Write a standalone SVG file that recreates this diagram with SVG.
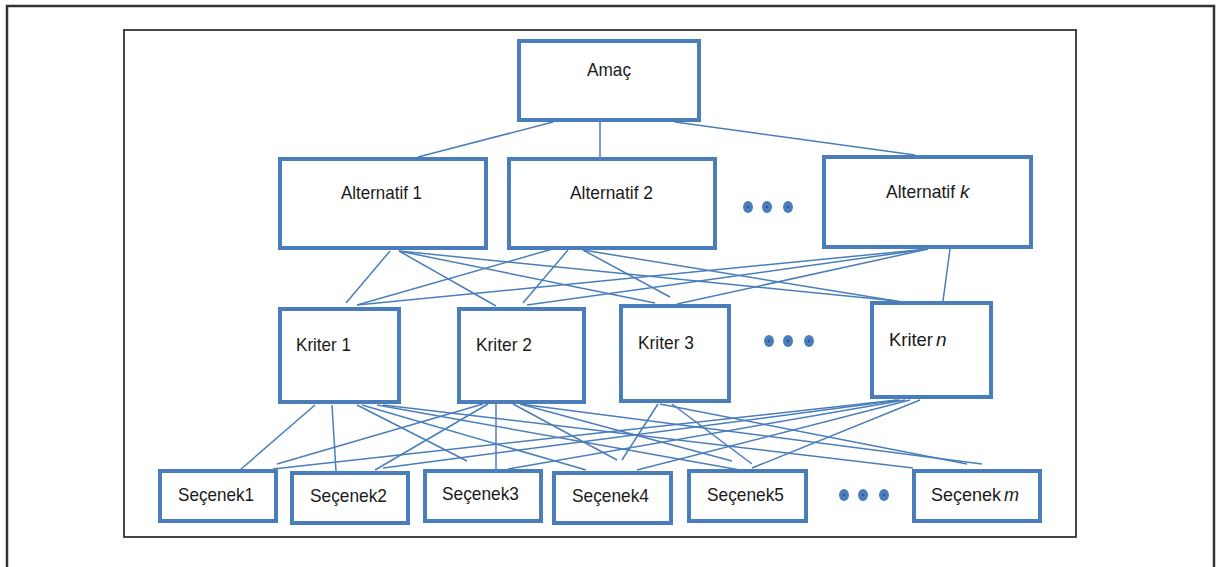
<svg xmlns="http://www.w3.org/2000/svg" width="1217" height="567" viewBox="0 0 1217 567">
<style>
.frame{fill:none;stroke:#333;}
.box{fill:#fff;stroke:#4a7ebb;stroke-width:4;}
.lbl{font-family:"Liberation Sans",Arial,sans-serif;font-size:19px;fill:#1a1a1a;}
.it{font-style:italic;}
#connectors line{stroke:#4a7ebb;stroke-width:1.5;}
.dot{fill:#4a7ebb;}
.dotc{fill:#27497a;}
</style>
<defs>
<g id="dots">
<ellipse class="dot" cx="0" cy="0" rx="5" ry="6"/><ellipse class="dotc" cx="0" cy="0" rx="0.8" ry="1.2"/>
<ellipse class="dot" cx="19" cy="0" rx="5" ry="6"/><ellipse class="dotc" cx="19" cy="0" rx="0.8" ry="1.2"/>
<ellipse class="dot" cx="40" cy="0" rx="5" ry="6"/><ellipse class="dotc" cx="40" cy="0" rx="0.8" ry="1.2"/>
</g>
</defs>
<rect width="1217" height="567" fill="#fff"/>
<path class="frame" d="M7,575 V6 H1214 V575" stroke-width="2.5"/>
<rect class="frame" x="124" y="30" width="952" height="507" stroke-width="1.8"/>

<g id="connectors">
<line x1="553" y1="122" x2="418" y2="157"/>
<line x1="600" y1="122" x2="600" y2="157"/>
<line x1="675" y1="122" x2="915" y2="155"/>

<line x1="390" y1="251" x2="346" y2="303"/>
<line x1="399" y1="251" x2="496" y2="306"/>
<line x1="399" y1="251" x2="655" y2="303"/>
<line x1="399" y1="251" x2="897" y2="301"/>
<line x1="563" y1="246" x2="357" y2="305"/>
<line x1="568" y1="250" x2="523" y2="303"/>
<line x1="583" y1="250" x2="670" y2="297"/>
<line x1="583" y1="250" x2="902" y2="302"/>
<line x1="928" y1="249" x2="357" y2="305"/>
<line x1="928" y1="249" x2="527" y2="305"/>
<line x1="928" y1="249" x2="677" y2="304"/>
<line x1="950" y1="249" x2="943" y2="301"/>

<line x1="315" y1="405" x2="240" y2="470"/>
<line x1="332" y1="405" x2="336" y2="471"/>
<line x1="357" y1="405" x2="467" y2="461"/>
<line x1="362" y1="405" x2="586" y2="470"/>
<line x1="377" y1="405" x2="740" y2="470"/>
<line x1="383" y1="405" x2="913" y2="468"/>

<line x1="483" y1="404" x2="277" y2="464"/>
<line x1="488" y1="404" x2="375" y2="470"/>
<line x1="496" y1="404" x2="496" y2="470"/>
<line x1="513" y1="404" x2="617" y2="460"/>
<line x1="520" y1="404" x2="732" y2="461"/>
<line x1="520" y1="404" x2="982" y2="464"/>

<line x1="658" y1="404" x2="622" y2="460"/>
<line x1="672" y1="404" x2="752" y2="464"/>
<line x1="660" y1="404" x2="967" y2="464"/>

<line x1="897" y1="400" x2="273" y2="469"/>
<line x1="900" y1="400" x2="383" y2="468"/>
<line x1="905" y1="400" x2="508" y2="469"/>
<line x1="910" y1="400" x2="637" y2="470"/>
<line x1="920" y1="400" x2="752" y2="468"/>
</g>

<g id="amac"><rect class="box" x="519" y="41" width="180" height="79"/><text class="lbl" x="587" y="76" textLength="44" lengthAdjust="spacingAndGlyphs">Amaç</text></g>

<g id="alt1"><rect class="box" x="280" y="159" width="206" height="89"/><text class="lbl" x="341" y="199" textLength="81" lengthAdjust="spacingAndGlyphs">Alternatif 1</text></g>
<g id="alt2"><rect class="box" x="509" y="159" width="206" height="89"/><text class="lbl" x="570" y="199" textLength="83" lengthAdjust="spacingAndGlyphs">Alternatif 2</text></g>
<g id="altk"><rect class="box" x="824" y="157" width="207" height="90"/><text class="lbl" x="886" y="198" textLength="69" lengthAdjust="spacingAndGlyphs">Alternatif</text><text class="lbl it" x="960" y="198">k</text></g>
<g id="altdots"><use href="#dots" x="748" y="207"/></g>

<g id="k1"><rect class="box" x="280" y="309" width="119" height="93"/><text class="lbl" x="296" y="351" textLength="55" lengthAdjust="spacingAndGlyphs">Kriter 1</text></g>
<g id="k2"><rect class="box" x="459" y="309" width="125" height="93"/><text class="lbl" x="476" y="351" textLength="56" lengthAdjust="spacingAndGlyphs">Kriter 2</text></g>
<g id="k3"><rect class="box" x="621" y="306" width="108" height="95"/><text class="lbl" x="638" y="349" textLength="56" lengthAdjust="spacingAndGlyphs">Kriter 3</text></g>
<g id="kn"><rect class="box" x="872" y="303" width="119" height="94"/><text class="lbl" x="889" y="346" textLength="44" lengthAdjust="spacingAndGlyphs">Kriter</text><text class="lbl it" x="936" y="346">n</text></g>
<g id="kdots"><use href="#dots" x="769" y="341"/></g>

<g id="s1"><rect class="box" x="160" y="471" width="116" height="50"/><text class="lbl" x="178" y="501" textLength="76" lengthAdjust="spacingAndGlyphs">Seçenek1</text></g>
<g id="s2"><rect class="box" x="292" y="473" width="116" height="50"/><text class="lbl" x="310" y="502" textLength="77" lengthAdjust="spacingAndGlyphs">Seçenek2</text></g>
<g id="s3"><rect class="box" x="425" y="471" width="116" height="50"/><text class="lbl" x="442" y="500" textLength="77" lengthAdjust="spacingAndGlyphs">Seçenek3</text></g>
<g id="s4"><rect class="box" x="554" y="473" width="117" height="50"/><text class="lbl" x="572" y="502" textLength="77" lengthAdjust="spacingAndGlyphs">Seçenek4</text></g>
<g id="s5"><rect class="box" x="689" y="471" width="117" height="50"/><text class="lbl" x="707" y="501" textLength="77" lengthAdjust="spacingAndGlyphs">Seçenek5</text></g>
<g id="sm"><rect class="box" x="914" y="471" width="126" height="50"/><text class="lbl" x="931" y="501" textLength="70" lengthAdjust="spacingAndGlyphs">Seçenek</text><text class="lbl it" x="1004" y="501" textLength="15" lengthAdjust="spacingAndGlyphs">m</text></g>
<g id="sdots"><use href="#dots" x="844" y="495"/></g>
</svg>
